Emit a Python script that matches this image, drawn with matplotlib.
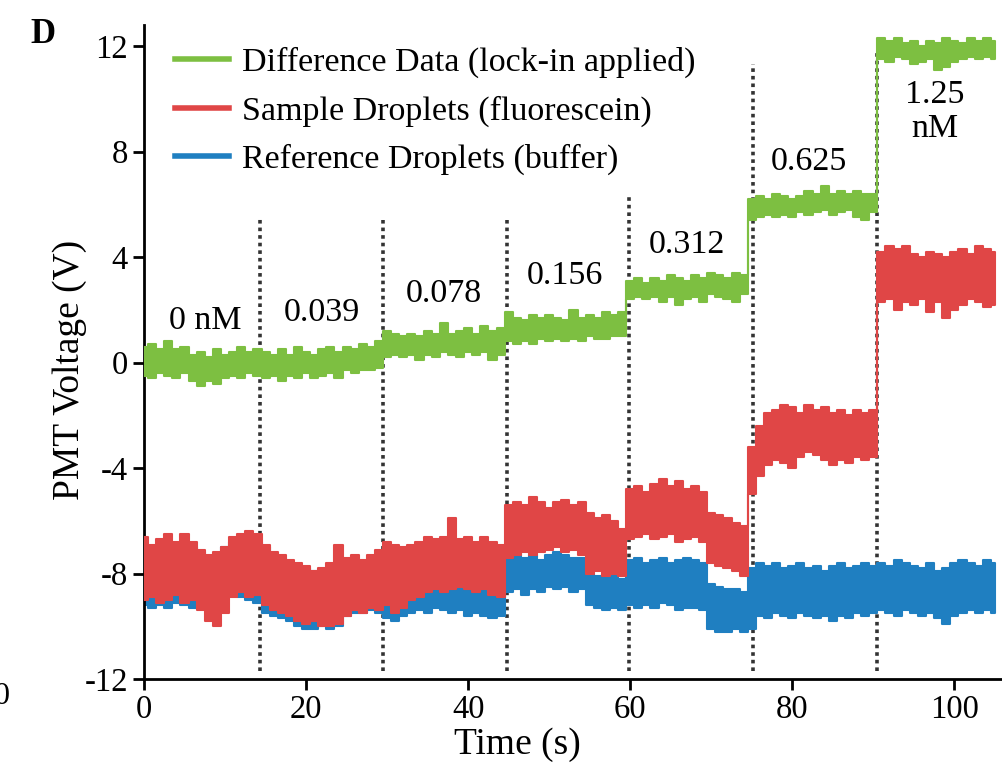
import numpy as np
import matplotlib
matplotlib.use("Agg")
import matplotlib.pyplot as plt

# time grid (s), one sample per second
time_s = np.arange(0, 106)

# band envelopes (V)
green_hi = [0.6, 0.7, 0.5, 0.8, 0.5, 0.6, 0.3, 0.4, 0.2, 0.5, 0.3, 0.4, 0.6, 0.4, 0.5,
            0.4, 0.3, 0.5, 0.3, 0.6, 0.4, 0.3, 0.5, 0.6, 0.4, 0.6, 0.5, 0.7, 0.6, 0.8,
            1.2, 1.1, 1.0, 1.1, 1.0, 1.2, 1.1, 1.5, 1.1, 1.2, 1.3, 1.1, 1.4, 1.2, 1.3,
            1.9, 1.7, 1.6, 1.8, 1.7, 1.8, 1.7, 1.6, 2.0, 1.7, 1.8, 1.7, 1.9, 1.8, 1.9,
            3.1, 3.2, 3.0, 3.2, 3.1, 3.3, 3.2, 3.1, 3.3, 3.2, 3.4, 3.3, 3.2, 3.4, 3.3,
            6.2, 6.3, 6.2, 6.4, 6.3, 6.2, 6.3, 6.5, 6.4, 6.7, 6.4, 6.5, 6.4, 6.5, 6.4, 6.4,
            12.3, 12.2, 12.3, 12.1, 12.2, 12.0, 12.2, 12.1, 12.3, 12.2, 12.1, 12.3, 12.2, 12.3, 12.2]
green_lo = [-0.5, -0.6, -0.4, -0.5, -0.6, -0.4, -0.7, -0.9, -0.7, -0.8, -0.6, -0.5, -0.6, -0.4, -0.5,
            -0.6, -0.5, -0.7, -0.5, -0.6, -0.4, -0.6, -0.5, -0.4, -0.6, -0.3, -0.4, -0.3, -0.3, -0.2,
            0.2, 0.3, 0.2, 0.3, 0.1, 0.3, 0.2, 0.4, 0.3, 0.2, 0.4, 0.3, 0.4, 0.1, 0.3,
            0.8, 0.7, 0.8, 0.7, 0.9, 0.8, 0.9, 0.8, 0.9, 0.8, 1.0, 0.9, 0.9, 1.0, 1.0,
            2.4, 2.5, 2.4, 2.5, 2.3, 2.5, 2.2, 2.4, 2.5, 2.3, 2.6, 2.5, 2.4, 2.3, 2.6,
            5.4, 5.5, 5.6, 5.5, 5.6, 5.5, 5.7, 5.6, 5.7, 5.8, 5.6, 5.7, 5.8, 5.5, 5.4, 5.7,
            11.5, 11.4, 11.6, 11.5, 11.3, 11.4, 11.5, 11.1, 11.2, 11.4, 11.5, 11.6, 11.5, 11.6, 11.5]

red_hi = [-6.6, -6.9, -6.7, -6.5, -6.8, -6.5, -6.8, -7.1, -7.3, -7.2, -7.0, -6.6, -6.5, -6.4, -6.5,
          -6.9, -7.2, -7.3, -7.5, -7.6, -7.7, -7.9, -7.8, -7.6, -6.9, -7.4, -7.3, -7.5, -7.3, -7.1,
          -6.8, -6.9, -7.0, -6.9, -6.8, -6.6, -6.7, -6.6, -5.9, -6.7, -6.6, -6.8, -6.6, -6.8, -6.9,
          -5.4, -5.3, -5.4, -5.1, -5.3, -5.5, -5.3, -5.2, -5.4, -5.3, -5.7, -5.9, -5.8, -6.0, -6.3,
          -4.8, -4.7, -4.9, -4.6, -4.4, -4.7, -4.5, -4.8, -4.7, -4.9, -5.7, -5.8, -5.9, -6.1, -6.2,
          -3.2, -2.4, -1.9, -1.8, -1.6, -1.7, -1.9, -1.6, -1.8, -1.7, -1.9, -1.8, -2.0, -1.8, -1.9, -1.8,
          4.2, 4.4, 4.3, 4.4, 4.1, 4.0, 4.2, 4.1, 4.0, 4.2, 4.3, 4.1, 4.4, 4.3, 4.2]
red_lo = [-9.0, -8.9, -9.1, -9.0, -8.8, -9.1, -9.0, -9.4, -9.8, -10.0, -9.5, -8.9, -8.7, -8.9, -8.8,
          -9.2, -9.4, -9.5, -9.6, -9.8, -9.9, -9.8, -10.0, -10.0, -9.9, -9.6, -9.4, -9.5, -9.3, -9.4,
          -9.2, -9.5, -9.3, -9.0, -8.9, -8.7, -8.6, -8.7, -8.6, -8.5, -8.6, -8.7, -8.6, -8.8, -8.9,
          -7.4, -7.3, -7.2, -7.3, -7.2, -7.1, -7.0, -7.2, -7.1, -7.3, -8.0, -7.9, -8.1, -8.0, -8.1,
          -6.7, -6.6, -6.5, -6.7, -6.6, -6.5, -6.8, -6.7, -6.6, -6.8, -7.6, -7.7, -7.8, -7.9, -8.1,
          -5.0, -4.3, -3.9, -3.7, -3.8, -4.0, -3.6, -3.4, -3.5, -3.7, -3.9, -3.7, -3.8, -3.6, -3.7, -3.6,
          2.3, 2.4, 2.0, 2.3, 2.2, 2.4, 1.9, 2.3, 1.7, 2.0, 2.2, 2.4, 2.3, 2.1, 2.2]

blue_hi = [-7.0, -7.1, -7.0, -6.9, -7.0, -6.9, -7.0, -7.2, -7.4, -7.3, -7.0, -6.8, -6.7, -6.6, -6.8,
           -7.0, -7.3, -7.4, -7.6, -7.7, -7.8, -7.9, -7.9, -7.8, -7.6, -7.5, -7.6, -7.6, -7.5, -7.4,
           -8.6, -8.8, -8.6, -8.5, -8.3, -8.4, -8.2, -8.3, -8.4, -8.5, -8.5, -8.4, -8.6, -8.5, -8.7,
           -7.3, -7.2, -7.4, -7.3, -7.5, -7.3, -7.2, -7.3, -7.4, -7.4, -8.0, -8.1, -8.0, -8.1, -8.2,
           -7.5, -7.4, -7.6, -7.5, -7.4, -7.6, -7.5, -7.4, -7.5, -7.6, -8.4, -8.5, -8.6, -8.6, -8.7,
           -7.8, -7.6, -7.7, -7.6, -7.8, -7.7, -7.6, -7.8, -7.7, -7.9, -7.7, -7.6, -7.8, -7.7, -7.6, -7.7,
           -7.6, -7.7, -7.5, -7.6, -7.7, -7.8, -7.6, -7.9, -7.8, -7.6, -7.5, -7.6, -7.7, -7.5, -7.6]
blue_lo = [-9.2, -9.3, -9.2, -9.3, -9.1, -9.2, -9.3, -9.1, -9.0, -9.0, -8.9, -8.8, -8.9, -9.0, -9.1,
           -9.5, -9.6, -9.7, -9.8, -10.0, -10.1, -10.1, -10.0, -10.1, -10.0, -9.6, -9.5, -9.5, -9.4, -9.5,
           -9.7, -9.8, -9.6, -9.5, -9.4, -9.5, -9.3, -9.4, -9.5, -9.4, -9.6, -9.5, -9.6, -9.7, -9.6,
           -8.7, -8.6, -8.8, -8.6, -8.7, -8.5, -8.6, -8.5, -8.7, -8.6, -9.2, -9.3, -9.4, -9.3, -9.4,
           -9.2, -9.3, -9.2, -9.3, -9.1, -9.2, -9.4, -9.3, -9.3, -9.4, -10.1, -10.2, -10.2, -10.1, -10.2,
           -10.1, -9.6, -9.7, -9.5, -9.6, -9.7, -9.5, -9.6, -9.7, -9.6, -9.8, -9.6, -9.7, -9.5, -9.6, -9.5,
           -9.4, -9.5, -9.6, -9.4, -9.5, -9.6, -9.5, -9.7, -9.9, -9.6, -9.5, -9.4, -9.5, -9.4, -9.5]

# concentration boundaries and labels
boundary_x = [14.3, 29.5, 44.8, 59.9, 75.1, 90.4]
boundary_top = [5.5, 5.4, 5.4, 6.3, 11.3, 11.8]
conc_labels = ["0 nM", "0.039", "0.078", "0.156", "0.312", "0.625", "1.25\nnM"]
conc_x = [7.5, 22.0, 37.0, 52.0, 67.0, 82.0, 97.6]
conc_y = [1.6, 1.9, 2.6, 3.3, 4.45, 7.6, 9.5]

GREEN = "#7dbf41"
RED = "#e04646"
BLUE = "#1f7fc1"

plt.rcParams["font.family"] = ["Liberation Serif", "DejaVu Serif"]
plt.rcParams["axes.unicode_minus"] = False

fig = plt.figure(figsize=(10.03, 7.65), dpi=100)
ax = fig.add_axes([0.1436, 0.1124, 0.8564, 0.855])

for xb, yt in zip(boundary_x, boundary_top):
    ax.plot([xb, xb], [-11.7, yt], color="#333333", lw=2.6, ls=(0, (1, 1.1)), zorder=1)

ax.fill_between(time_s, blue_lo, blue_hi, step="mid", color=BLUE, lw=1.5, edgecolor=BLUE, zorder=2)
ax.fill_between(time_s, red_lo, red_hi, step="mid", color=RED, lw=1.5, edgecolor=RED, zorder=3)
ax.fill_between(time_s, green_lo, green_hi, step="mid", color=GREEN, lw=1.5, edgecolor=GREEN, zorder=4)

ax.plot([], [], color=GREEN, lw=4, label="Difference Data (lock-in applied)")
ax.plot([], [], color=RED, lw=4, label="Sample Droplets (fluorescein)")
ax.plot([], [], color=BLUE, lw=4, label="Reference Droplets (buffer)")
ax.legend(loc="upper left", bbox_to_anchor=(0.036, 0.966), frameon=False, fontsize=24.5,
          handlelength=1.6, handletextpad=0.36, labelspacing=0.5, borderpad=0, borderaxespad=0)

for lab, xc, yc in zip(conc_labels, conc_x, conc_y):
    ax.text(xc, yc, lab, ha="center", va="center", fontsize=24.5, linespacing=1.15)

ax.set_xlim(0, 106)
ax.set_ylim(-12, 12.8)
ax.set_xticks([0, 20, 40, 60, 80, 100])
ax.set_yticks([-12, -8, -4, 0, 4, 8, 12])
ax.tick_params(labelsize=23.5, width=2, length=8, direction="out")
ax.spines["top"].set_visible(False)
ax.spines["right"].set_visible(False)
ax.spines["left"].set_linewidth(2)
ax.spines["bottom"].set_linewidth(2)
ax.set_xlabel("Time (s)", fontsize=27)
ax.set_ylabel("PMT Voltage (V)", fontsize=27)
ax.xaxis.set_label_coords(0.435, -0.101)
ax.yaxis.set_label_coords(-0.086, 0.4725)
ax.xaxis.label.set_va("center")
ax.yaxis.label.set_va("center")

fig.text(0.03, 0.955, "D", fontsize=25, fontweight="bold", va="center")
fig.text(-0.006, 0.089, "0", fontsize=23, va="center")

fig.savefig("out.png", dpi=100)
